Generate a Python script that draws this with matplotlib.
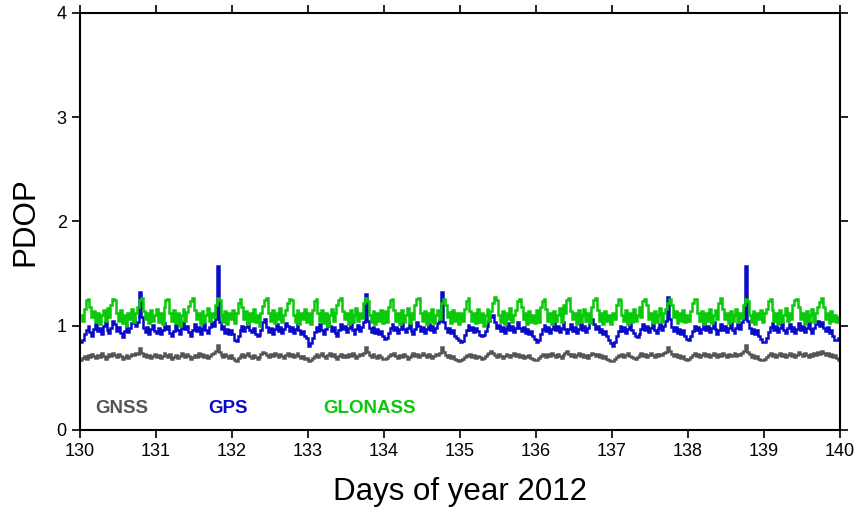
import numpy as np
import matplotlib
matplotlib.use("Agg")
import matplotlib.pyplot as plt

plt.rcParams['font.family'] = ['Liberation Sans', 'DejaVu Sans']

# time grid: day of year, 0.025-day epochs from 130 to 140 (40 per day)
t_start = 130.0
t_step = 0.025

gnss = [
    0.67, 0.69, 0.71, 0.68, 0.72, 0.70, 0.73, 0.71, 0.69, 0.72, 0.70, 0.74, 0.71, 0.68, 0.70, 0.73, 0.71, 0.74, 0.72, 0.70,
    0.73, 0.71, 0.68, 0.70, 0.72, 0.69, 0.71, 0.73, 0.72, 0.74, 0.73, 0.79, 0.74, 0.71, 0.73, 0.70, 0.72, 0.69, 0.71, 0.73,
    0.70, 0.72, 0.69, 0.71, 0.74, 0.72, 0.70, 0.73, 0.68, 0.70, 0.72, 0.69, 0.71, 0.74, 0.72, 0.70, 0.73, 0.71, 0.68, 0.70,
    0.72, 0.70, 0.74, 0.71, 0.73, 0.70, 0.72, 0.69, 0.71, 0.73, 0.74, 0.76, 0.82, 0.75, 0.72, 0.70, 0.73, 0.71, 0.69, 0.72,
    0.69, 0.67, 0.66, 0.69, 0.71, 0.73, 0.70, 0.72, 0.74, 0.71, 0.69, 0.72, 0.70, 0.68, 0.70, 0.73, 0.75, 0.74, 0.72, 0.70,
    0.73, 0.71, 0.74, 0.72, 0.70, 0.73, 0.71, 0.69, 0.72, 0.74, 0.71, 0.73, 0.70, 0.72, 0.74, 0.71, 0.69, 0.71, 0.68, 0.69,
    0.66, 0.67, 0.69, 0.71, 0.73, 0.70, 0.72, 0.74, 0.71, 0.69, 0.72, 0.74, 0.71, 0.73, 0.70, 0.68, 0.71, 0.73, 0.70, 0.72,
    0.70, 0.73, 0.71, 0.74, 0.72, 0.69, 0.71, 0.73, 0.72, 0.74, 0.80, 0.75, 0.72, 0.70, 0.73, 0.71, 0.69, 0.72, 0.70, 0.68,
    0.68, 0.69, 0.71, 0.73, 0.72, 0.74, 0.71, 0.69, 0.72, 0.70, 0.73, 0.71, 0.68, 0.70, 0.72, 0.74, 0.71, 0.73, 0.70, 0.72,
    0.74, 0.72, 0.70, 0.73, 0.71, 0.69, 0.71, 0.73, 0.72, 0.74, 0.80, 0.75, 0.72, 0.70, 0.72, 0.69, 0.71, 0.68, 0.67, 0.66,
    0.67, 0.68, 0.70, 0.72, 0.71, 0.73, 0.70, 0.72, 0.69, 0.71, 0.70, 0.68, 0.69, 0.71, 0.73, 0.74, 0.76, 0.74, 0.72, 0.70,
    0.73, 0.71, 0.69, 0.71, 0.73, 0.72, 0.70, 0.72, 0.74, 0.71, 0.73, 0.70, 0.72, 0.69, 0.71, 0.70, 0.72, 0.69, 0.68, 0.67,
    0.67, 0.69, 0.71, 0.73, 0.72, 0.70, 0.73, 0.71, 0.74, 0.72, 0.70, 0.73, 0.71, 0.69, 0.72, 0.74, 0.76, 0.73, 0.71, 0.73,
    0.70, 0.72, 0.74, 0.71, 0.73, 0.70, 0.72, 0.69, 0.72, 0.74, 0.73, 0.71, 0.73, 0.70, 0.72, 0.69, 0.71, 0.68, 0.67, 0.66,
    0.66, 0.68, 0.70, 0.72, 0.71, 0.73, 0.70, 0.72, 0.74, 0.71, 0.70, 0.69, 0.68, 0.70, 0.72, 0.74, 0.71, 0.73, 0.70, 0.72,
    0.74, 0.72, 0.70, 0.73, 0.71, 0.73, 0.72, 0.74, 0.75, 0.80, 0.76, 0.73, 0.71, 0.73, 0.70, 0.72, 0.69, 0.71, 0.68, 0.67,
    0.68, 0.70, 0.72, 0.74, 0.71, 0.73, 0.70, 0.72, 0.74, 0.71, 0.73, 0.70, 0.72, 0.74, 0.72, 0.70, 0.73, 0.71, 0.74, 0.72,
    0.70, 0.73, 0.71, 0.72, 0.74, 0.71, 0.73, 0.72, 0.74, 0.76, 0.82, 0.75, 0.73, 0.70, 0.72, 0.69, 0.71, 0.68, 0.67, 0.67,
    0.68, 0.70, 0.72, 0.74, 0.71, 0.73, 0.70, 0.72, 0.74, 0.71, 0.73, 0.70, 0.72, 0.74, 0.71, 0.73, 0.70, 0.72, 0.75, 0.73,
    0.71, 0.74, 0.72, 0.70, 0.73, 0.71, 0.74, 0.72, 0.75, 0.73, 0.76, 0.74, 0.72, 0.74, 0.71, 0.73, 0.70, 0.72, 0.69, 0.67,
]

gps = [
    0.84, 0.86, 0.92, 0.96, 1.00, 0.94, 0.90, 0.97, 1.02, 0.95, 0.98, 0.92, 1.00, 1.04, 0.96, 0.93, 0.98, 1.05, 1.02, 0.95,
    0.99, 0.93, 0.89, 0.95, 1.00, 0.94, 0.98, 1.03, 1.06, 1.00, 1.04, 1.32, 1.08, 0.98, 0.94, 0.99, 0.92, 0.97, 1.01, 0.95,
    0.93, 0.98, 0.92, 0.96, 1.03, 0.97, 1.00, 0.93, 0.90, 0.95, 1.01, 0.96, 0.92, 0.98, 1.04, 0.97, 1.00, 0.94, 0.90, 0.96,
    1.02, 0.95, 0.99, 0.92, 0.97, 1.03, 0.96, 0.93, 0.99, 1.04, 1.00, 1.06, 1.57, 1.04, 0.97, 1.00, 0.93, 0.97, 0.92, 0.96,
    0.92, 0.86, 0.85, 0.90, 0.96, 1.00, 0.95, 0.99, 1.03, 0.96, 0.94, 0.98, 0.92, 0.90, 0.91, 0.96, 1.04, 1.06, 0.99, 0.94,
    0.98, 0.92, 0.97, 1.02, 0.95, 0.99, 0.93, 0.97, 1.03, 1.00, 0.95, 0.99, 0.93, 0.97, 1.02, 0.96, 0.92, 0.95, 0.90, 0.88,
    0.81, 0.83, 0.88, 0.94, 0.99, 0.95, 1.02, 0.96, 0.92, 0.97, 1.04, 1.00, 0.95, 0.99, 0.93, 0.90, 0.96, 1.02, 0.97, 1.00,
    0.94, 0.98, 1.03, 0.96, 0.92, 0.97, 1.01, 0.95, 0.99, 1.04, 1.30, 1.05, 0.98, 0.94, 0.99, 0.93, 0.97, 0.92, 0.95, 0.90,
    0.87, 0.88, 0.93, 0.98, 1.02, 0.96, 0.99, 0.93, 0.97, 1.03, 0.97, 0.94, 0.98, 1.02, 0.95, 0.92, 0.97, 1.04, 1.00, 0.95,
    0.99, 0.93, 0.97, 1.02, 0.96, 1.00, 0.94, 0.98, 1.03, 1.05, 1.32, 1.04, 0.98, 0.94, 0.98, 0.93, 0.96, 0.90, 0.88, 0.86,
    0.84, 0.85, 0.91, 0.96, 1.01, 0.96, 0.99, 0.94, 0.98, 0.95, 0.91, 0.90, 0.91, 0.95, 1.00, 1.05, 1.08, 1.10, 1.04, 0.98,
    1.01, 0.95, 0.99, 0.93, 0.97, 1.03, 0.96, 1.00, 0.94, 0.98, 1.04, 0.98, 0.95, 0.99, 0.93, 0.97, 0.92, 0.95, 0.90, 0.87,
    0.84, 0.86, 0.92, 0.97, 1.01, 0.95, 0.99, 0.93, 0.97, 1.03, 0.96, 1.00, 0.94, 0.98, 1.04, 0.97, 0.93, 0.97, 1.02, 0.95,
    0.99, 0.93, 0.97, 1.02, 0.96, 1.00, 0.94, 0.98, 1.04, 1.06, 1.02, 0.97, 1.00, 0.94, 0.97, 0.92, 0.95, 0.90, 0.86, 0.83,
    0.81, 0.84, 0.90, 0.95, 1.00, 0.95, 0.99, 0.93, 0.97, 1.02, 0.96, 0.93, 0.90, 0.89, 0.92, 0.97, 1.02, 0.96, 1.00, 0.94,
    0.98, 1.03, 0.96, 0.93, 0.98, 1.02, 0.96, 1.00, 1.05, 1.28, 1.06, 0.99, 0.95, 0.99, 0.93, 0.97, 0.92, 0.96, 0.90, 0.87,
    0.86, 0.90, 0.95, 1.00, 0.96, 0.99, 0.93, 0.97, 1.03, 0.96, 1.00, 0.94, 0.98, 1.04, 0.97, 0.92, 0.96, 1.02, 0.96, 1.00,
    0.94, 0.98, 1.03, 0.96, 0.93, 0.98, 1.02, 0.97, 1.04, 1.06, 1.57, 1.05, 0.98, 0.93, 0.97, 0.92, 0.96, 0.90, 0.87, 0.84,
    0.84, 0.88, 0.94, 0.99, 1.03, 0.96, 1.00, 0.94, 0.98, 1.03, 0.96, 0.93, 0.98, 1.02, 0.95, 0.99, 0.93, 0.97, 1.03, 0.96,
    1.00, 0.94, 0.98, 1.04, 0.97, 0.93, 0.98, 1.02, 1.05, 1.00, 1.04, 0.98, 0.95, 0.99, 0.93, 0.96, 0.90, 0.86, 0.86, 0.88,
]

glonass = [
    1.10, 1.05, 1.16, 1.25, 1.26, 1.18, 1.08, 1.14, 1.04, 1.12, 1.02, 1.10, 1.15, 1.05, 1.17, 1.08, 1.20, 1.26, 1.25, 1.12,
    1.05, 1.15, 1.03, 1.10, 1.00, 1.12, 1.06, 1.16, 1.04, 1.12, 1.18, 1.25, 1.27, 1.14, 1.06, 1.12, 1.03, 1.15, 1.05, 1.10,
    1.16, 1.04, 1.12, 1.02, 1.18, 1.25, 1.26, 1.12, 1.05, 1.15, 1.03, 1.12, 1.00, 1.10, 1.16, 1.05, 1.13, 1.19, 1.24, 1.27,
    1.15, 1.06, 1.12, 1.02, 1.14, 1.04, 1.10, 1.17, 1.05, 1.12, 1.08, 1.20, 1.27, 1.25, 1.10, 1.04, 1.14, 1.02, 1.12, 1.06,
    1.15, 1.03, 1.12, 1.22, 1.26, 1.18, 1.06, 1.14, 1.02, 1.12, 1.05, 1.16, 1.04, 1.10, 1.00, 1.12, 1.19, 1.25, 1.27, 1.12,
    1.05, 1.15, 1.03, 1.12, 1.06, 1.17, 1.04, 1.10, 1.15, 1.22, 1.26, 1.25, 1.10, 1.04, 1.15, 1.02, 1.12, 1.06, 1.16, 1.04,
    1.12, 1.02, 1.15, 1.24, 1.26, 1.12, 1.05, 1.15, 1.03, 1.12, 1.00, 1.10, 1.16, 1.05, 1.12, 1.20, 1.25, 1.27, 1.14, 1.06,
    1.12, 1.02, 1.15, 1.04, 1.10, 1.17, 1.05, 1.12, 1.07, 1.22, 1.27, 1.24, 1.10, 1.04, 1.14, 1.02, 1.12, 1.05, 1.15, 1.03,
    1.14, 1.04, 1.18, 1.25, 1.26, 1.15, 1.05, 1.12, 1.02, 1.15, 1.04, 1.10, 1.17, 1.03, 1.12, 1.06, 1.20, 1.26, 1.27, 1.12,
    1.05, 1.14, 1.02, 1.12, 1.05, 1.16, 1.03, 1.10, 1.15, 1.06, 1.22, 1.26, 1.20, 1.08, 1.13, 1.03, 1.15, 1.05, 1.12, 1.02,
    1.12, 1.05, 1.16, 1.24, 1.27, 1.14, 1.05, 1.12, 1.03, 1.16, 1.04, 1.12, 1.00, 1.10, 1.16, 1.05, 1.14, 1.22, 1.28, 1.25,
    1.10, 1.04, 1.14, 1.02, 1.12, 1.06, 1.17, 1.04, 1.10, 1.15, 1.24, 1.26, 1.18, 1.06, 1.12, 1.02, 1.14, 1.04, 1.10, 1.03,
    1.15, 1.04, 1.18, 1.24, 1.26, 1.16, 1.05, 1.12, 1.02, 1.14, 1.05, 1.10, 1.17, 1.04, 1.20, 1.12, 1.25, 1.27, 1.14, 1.06,
    1.12, 1.02, 1.15, 1.04, 1.10, 1.16, 1.05, 1.12, 1.03, 1.18, 1.25, 1.27, 1.15, 1.05, 1.12, 1.02, 1.14, 1.05, 1.10, 1.02,
    1.12, 1.06, 1.20, 1.26, 1.25, 1.10, 1.05, 1.15, 1.02, 1.12, 1.04, 1.16, 1.05, 1.10, 1.18, 1.08, 1.24, 1.26, 1.20, 1.06,
    1.12, 1.03, 1.14, 1.04, 1.10, 1.17, 1.04, 1.12, 1.16, 1.22, 1.26, 1.20, 1.08, 1.14, 1.03, 1.12, 1.05, 1.15, 1.04, 1.10,
    1.05, 1.14, 1.22, 1.26, 1.26, 1.12, 1.05, 1.14, 1.02, 1.12, 1.05, 1.16, 1.03, 1.10, 1.15, 1.06, 1.22, 1.27, 1.16, 1.06,
    1.12, 1.03, 1.14, 1.05, 1.10, 1.16, 1.04, 1.12, 1.07, 1.20, 1.26, 1.24, 1.10, 1.04, 1.14, 1.02, 1.12, 1.06, 1.15, 1.04,
    1.12, 1.16, 1.24, 1.26, 1.15, 1.05, 1.12, 1.02, 1.15, 1.04, 1.10, 1.17, 1.05, 1.12, 1.06, 1.20, 1.25, 1.26, 1.18, 1.06,
    1.12, 1.02, 1.14, 1.05, 1.10, 1.16, 1.04, 1.12, 1.18, 1.23, 1.27, 1.18, 1.06, 1.12, 1.03, 1.14, 1.05, 1.10, 1.04, 1.08,
]

series_names = ["GNSS", "GPS", "GLONASS"]
series_colors = ["#555555", "#0a0ac8", "#0ac80a"]
label_x = [130.197, 131.69, 133.2]
label_y = 0.208

x_ticks = list(range(130, 141))
y_ticks = [0, 1, 2, 3, 4]

for s in (gnss, gps, glonass):
    assert len(s) == 400, len(s)

fig = plt.figure(figsize=(8.58, 5.13), dpi=100)
ax = fig.add_axes([0.0932, 0.1618, 0.8858, 0.8129])

for vals, col in zip([gnss, gps, glonass], series_colors):
    v = np.array(vals + [vals[-1]])
    t = t_start + t_step * np.arange(len(v))
    ax.step(t, v, where='post', color=col, lw=1.8, solid_joinstyle='miter')

for name, col, lx in zip(series_names, series_colors, label_x):
    ax.text(lx, label_y, name, color=col, fontsize=13.5, fontweight='bold',
            ha='left', va='center')

ax.set_xlim(130, 140)
ax.set_ylim(0, 4)
ax.set_xticks(x_ticks)
ax.set_yticks(y_ticks)
ax.tick_params(direction='out', length=6, width=1.2, labelsize=13,
               top=True, right=True, labeltop=False, labelright=False)
for s in ax.spines.values():
    s.set_linewidth(1.5)
ax.set_xlabel("Days of year 2012", fontsize=22.5, labelpad=12)
ax.set_ylabel("PDOP", fontsize=22.5, labelpad=12)

fig.savefig("out.png", dpi=100)
